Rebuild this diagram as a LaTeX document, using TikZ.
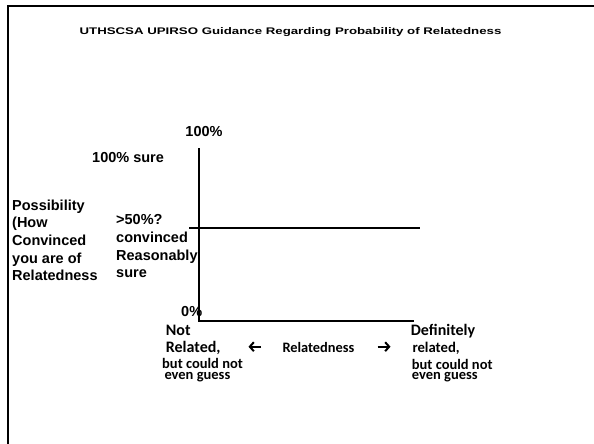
\documentclass[tikz,border=0pt]{standalone}
\usepackage{fontspec}
\usepackage{graphicx}
\usetikzlibrary{arrows.meta}
\setmainfont{Liberation Sans}
\newfontfamily\calfont{Carlito}
\begin{document}
\begin{tikzpicture}[x=1pt,y=-1pt,
  arial/.style={inner sep=0pt, anchor=base west, font=\fontsize{14.5}{17.6}\selectfont\bfseries},
  calib/.style={inner sep=0pt, anchor=base west, font=\calfont\fontsize{#1}{#1}\selectfont\bfseries},
  axis/.style={line width=1.2pt},
  frame/.style={line width=2.5pt},
  dirarrow/.style={line width=2pt, -{Straight Barb[length=4pt, width=9pt, line width=2pt]}}]
\useasboundingbox (0,0) rectangle (594,444);
% page frame (left and top edges)
\draw[frame] (8,444) -- (8,6) -- (594,6);

% title
\node[inner sep=0pt, anchor=base] (title) at (290.5,35)
  {\scalebox{1.38}[1]{\fontsize{9.6}{11}\selectfont\bfseries UTHSCSA UPIRSO Guidance Regarding Probability of Relatedness}};

% axes
\coordinate (top) at (199,148);
\coordinate (origin) at (199,321);
\coordinate (xend) at (414,321);
\coordinate (midL) at (189,228);
\coordinate (midR) at (420,228);
\draw[axis] (top) -- (origin) -- (xend);
\draw[line width=1.8pt] (midL) -- (midR);

% vertical axis labels
\node[inner sep=0pt, anchor=base, font=\fontsize{14.5}{17.6}\selectfont\bfseries] (p100) at (204,136.5) {100\%};
\node[arial] (sure100) at (92,162) {100\% sure};
\node[arial] (p0) at (181,316.7) {0\%};
\node[arial, anchor=north west, align=left] (possib) at (12,199.5)
  {Possibility\\(How\\Convinced\\you are of\\Relatedness};
\node[arial, anchor=north west, align=left] (half) at (116,214.5)
  {>50\%?\\convinced\\Reasonably\\sure};

% horizontal axis labels
\node[calib=16] (notl1) at (165.7,335) {Not};
\node[calib=16] (notl2) at (165.7,352.3) {Related,};
\node[calib=14.5] (notl3) at (162,368.3) {but could not};
\node[calib=14.5] (notl4) at (164.3,379.3) {even guess};

\node[calib=16] (defl1) at (410.7,335) {Definitely};
\node[calib=14.7] (defl2) at (412.3,352.3) {related,};
\node[calib=14.5] (defl3) at (411.7,369) {but could not};
\node[calib=14.5] (defl4) at (411.7,379.5) {even guess};

\node[calib=14.4] (rel) at (282.3,352.3) {Relatedness};

% direction arrows either side of the axis name
\coordinate (larrS) at (261,346.7);
\coordinate (larrE) at (248.5,346.7);
\coordinate (rarrS) at (377.5,346.7);
\coordinate (rarrE) at (390.5,346.7);
\draw[dirarrow] (larrS) -- (larrE);
\draw[dirarrow] (rarrS) -- (rarrE);
\end{tikzpicture}
\end{document}
